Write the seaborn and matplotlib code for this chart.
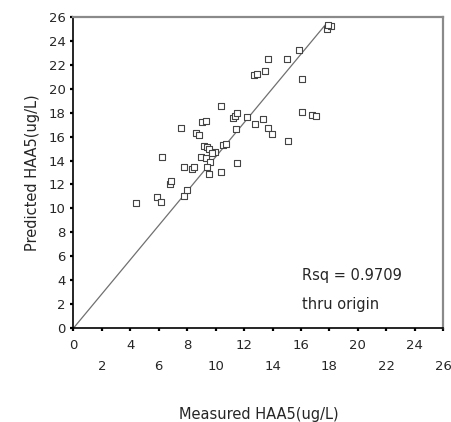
import numpy as np
import pandas as pd
import matplotlib
matplotlib.use("Agg")
import matplotlib.pyplot as plt
import seaborn as sns

# Measured vs. predicted HAA5 concentrations (ug/L)
measured = [4.4, 5.86, 6.14, 6.21, 6.8, 6.87, 7.78, 7.97, 7.6, 7.75,
            8.35, 8.5, 8.6, 8.8, 9.02, 9.33, 9.0, 9.3, 9.15, 9.37,
            9.5, 9.96, 9.72, 9.61, 9.4, 9.56, 10.36, 10.38, 10.5, 10.73,
            11.48, 11.4, 11.25, 11.38, 11.48, 12.19, 12.77, 13.31, 13.68, 13.95,
            15.12, 12.72, 12.9, 13.48, 13.7, 15.0, 15.88, 16.07, 16.07, 16.8,
            17.06, 17.8, 18.1, 17.9]
predicted = [10.45, 10.95, 10.5, 14.32, 12.05, 12.32, 11.0, 11.5, 16.75, 13.5,
             13.27, 13.5, 16.3, 16.1, 17.22, 17.33, 14.3, 14.25, 15.24, 15.16,
             14.97, 14.75, 14.6, 13.9, 13.5, 12.88, 13.07, 18.56, 15.26, 15.4,
             13.82, 16.6, 17.52, 17.7, 18.0, 17.63, 17.04, 17.45, 16.72, 16.25,
             15.65, 21.1, 21.25, 21.48, 22.45, 22.45, 23.23, 20.81, 18.08, 17.78,
             17.75, 24.96, 25.26, 25.3]

# Regression through the origin
fit_slope = 1.43
fit_x_end = 17.7
rsq_text = "Rsq = 0.9709"
fit_note = "thru origin"

x_ticks = list(range(0, 27, 2))
y_ticks = list(range(0, 27, 2))

df = pd.DataFrame({"Measured": measured, "Predicted": predicted})

sns.set_theme(style="white")
plt.rcParams["font.family"] = ["DejaVu Sans"]

fig = plt.figure(figsize=(4.52, 4.22), dpi=100)
ax = fig.add_axes([0.1622, 0.2220, 0.8186, 0.7384])

fit_x = np.array([0.0, fit_x_end])
sns.lineplot(x=fit_x, y=fit_slope * fit_x, ax=ax, color="#707070", lw=0.9)

sns.scatterplot(data=df, x="Measured", y="Predicted", ax=ax, marker="s",
                s=17, facecolor="white", edgecolor="#444444", linewidth=0.8,
                zorder=3)

ax.set_xlim(0, 26)
ax.set_ylim(0, 26)
ax.set_xticks(x_ticks)
ax.set_yticks(y_ticks)

# staggered x tick labels: multiples of 4 on the first row
ax.set_xticklabels([str(t) if t % 4 == 0 else "\n" + str(t) for t in x_ticks],
                   fontsize=9.5, linespacing=1.85)
ax.set_yticklabels([str(t) for t in y_ticks], fontsize=9.5)
ax.tick_params(axis="both", which="major", direction="out", length=2.5,
               width=1.6, color="black", pad=3, bottom=True, left=True)
ax.tick_params(axis="x", pad=5)

for side in ("left", "bottom"):
    ax.spines[side].set_color("black")
    ax.spines[side].set_linewidth(1.2)
for side in ("top", "right"):
    ax.spines[side].set_color("#8a8a8a")
    ax.spines[side].set_linewidth(1.6)

ax.set_xlabel("Measured HAA5(ug/L)", fontsize=10.5, labelpad=24)
ax.set_ylabel("Predicted HAA5(ug/L)", fontsize=10.5, labelpad=6)

ax.text(16.1, 4.4, rsq_text, fontsize=10.5, va="center", ha="left")
ax.text(16.05, 1.95, fit_note, fontsize=10.5, va="center", ha="left")

fig.savefig("out.png", dpi=100)
